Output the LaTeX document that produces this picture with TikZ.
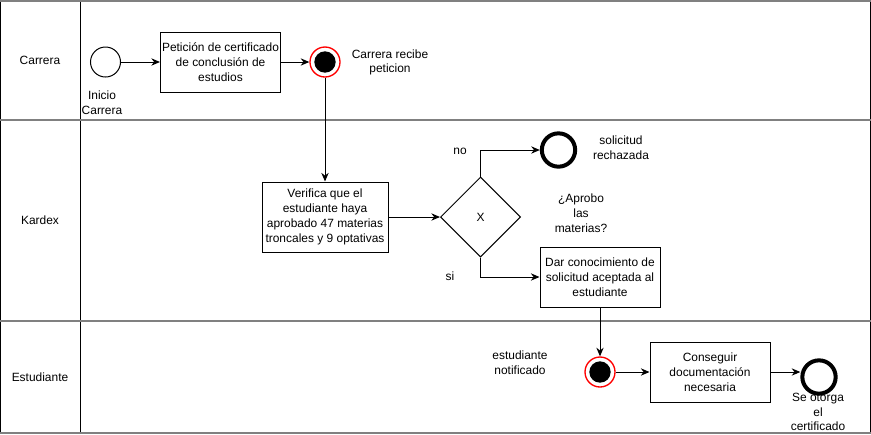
\documentclass[tikz,border=0pt]{standalone}
\usepackage{fontspec}
\setmainfont{Liberation Sans}
\usetikzlibrary{arrows.meta, shapes.geometric}

\begin{document}
\begin{tikzpicture}[x=0.03cm, y=-0.03cm, line width=0.03cm, font=\fontsize{10.2}{12.6}\selectfont, >={Stealth[length=2.6mm, width=2.2mm]},
  task/.style={draw, minimum width=3.6cm, minimum height=1.8cm, align=center, inner sep=1pt},
  startev/.style={draw, circle, minimum size=0.9cm, inner sep=0pt},
  midev/.style={draw=red, line width=0.04cm, circle, minimum size=0.9cm, inner sep=0pt, path picture={\fill (path picture bounding box.center) circle (0.32cm);}},
  endev/.style={draw, circle, line width=0.12cm, minimum size=1cm, inner sep=0pt},
  lane/.style={gray, line width=0.06cm}]
\useasboundingbox (0,0) rectangle (871,434);

% pools and lanes
\draw (0.5,0) -- (0.5,434);
\draw (80.5,0) -- (80.5,434);
\draw (870,0) -- (870,434);
\draw[lane] (0,1) -- (871,1);
\draw[lane] (0,120) -- (871,120);
\draw[lane] (0,321) -- (871,321);
\draw[lane] (0,433) -- (871,433);

\node (carrera) at (40,60) {Carrera};
\node (kardex) at (40,220) {Kardex};
\node (estudiante) at (40,377) {Estudiante};

% Carrera
\node[startev] (inicio) at (105.5,62) {};
\node[align=center] (inicioLbl) at (102,102.5) {Inicio\\Carrera};
\node[task] (peticion) at (220.5,62) {Petición de certificado\\de conclusión de\\estudios};
\node[midev] (recibe) at (325,62) {};
\node[align=center] (recibeLbl) at (390,62.5) {Carrera recibe\\peticion};

% Kardex
\node[task, minimum width=3.78cm, minimum height=2.1cm] (verifica) at (325,217) {Verifica que el\\estudiante haya\\aprobado 47 materias\\troncales y 9 optativas};
\node[draw, diamond, minimum width=2.4cm, minimum height=2.4cm, inner sep=0pt] (gw) at (480.5,217) {X};
\node[align=center] (gwLbl) at (581,213) {¿Aprobo\\las\\materias?};
\node[endev] (rechazada) at (558.5,150) {};
\node[align=center] (rechazadaLbl) at (621,148) {solicitud\\rechazada};
\node (noLbl) at (460,151) {no};
\node (siLbl) at (450,276) {si};
\node[task] (dar) at (600,277) {Dar conocimiento de\\solicitud aceptada al\\estudiante};

% Estudiante
\node[midev] (notificado) at (600,372) {};
\node[align=center] (notificadoLbl) at (520,362.5) {estudiante\\notificado};
\node[task] (conseguir) at (710,372) {Conseguir\\documentación\\necesaria};
\node[endev] (fin) at (819,377) {};
\node[align=center] (finLbl) at (818,412) {Se otorga\\el\\certificado};

\draw[->] (inicio) -- (peticion);
\draw[->] (peticion) -- (recibe);
\draw[->] (recibe) -- (verifica);
\draw[->] (verifica) -- (gw);
\draw[->] (gw.north) |- (rechazada);
\draw[->] (gw.south) |- (dar);
\draw[->] (dar) -- (notificado);
\draw[->] (notificado) -- (conseguir);
\draw[->] (conseguir.east) -- (conseguir.east -| fin.west);

\end{tikzpicture}
\end{document}
